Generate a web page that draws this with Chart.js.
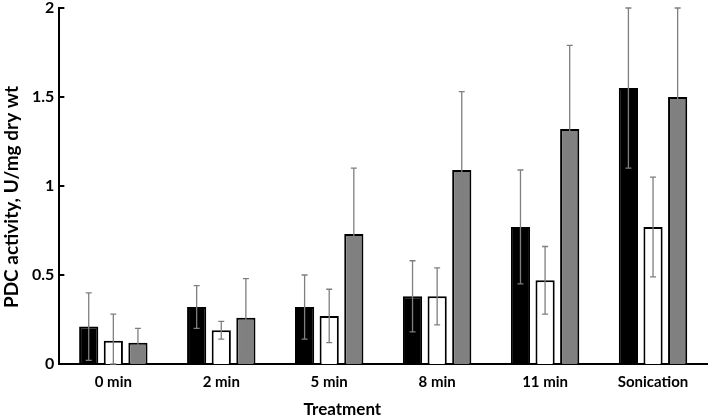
<!DOCTYPE html>
<html lang="en">
<head>
    <meta charset="UTF-8">
    <title>PDC activity</title>
    <script src="https://cdn.jsdelivr.net/npm/chart.js"></script>
    <style>
        html, body { margin: 0; padding: 0; background: #fff; }
        #wrap { width: 709px; height: 416px; }
    </style>
</head>
<body>
    <div id="wrap"><canvas id="pdcChart"></canvas></div>

    <script>
        const categories = ['0 min', '2 min', '5 min', '8 min', '11 min', 'Sonication'];

        const blackValues = [0.21, 0.32, 0.32, 0.38, 0.77, 1.55];
        const blackErrors = [0.19, 0.12, 0.18, 0.20, 0.32, 0.45];

        const whiteValues = [0.13, 0.19, 0.27, 0.38, 0.47, 0.77];
        const whiteErrors = [0.15, 0.05, 0.15, 0.16, 0.19, 0.28];

        const grayValues = [0.12, 0.26, 0.73, 1.09, 1.32, 1.50];
        const grayErrors = [0.08, 0.22, 0.37, 0.44, 0.47, 0.51];

        const yTicks = [0, 0.5, 1, 1.5, 2];

        const fontFamily = 'Lato, "Open Sans", sans-serif';

        // error bars, inside tick marks and the two axis titles
        const extras = {
            id: 'extras',
            afterDatasetsDraw(chart) {
                const ctx = chart.ctx;
                const y = chart.scales.y;
                ctx.save();
                ctx.strokeStyle = '#7f7f7f';
                ctx.lineWidth = 1.3;
                chart.data.datasets.forEach((ds, i) => {
                    const meta = chart.getDatasetMeta(i);
                    meta.data.forEach((bar, j) => {
                        const v = ds.data[j];
                        const e = ds.errors[j];
                        const top = y.getPixelForValue(Math.min(v + e, 2));
                        const bottom = y.getPixelForValue(Math.max(v - e, 0));
                        ctx.beginPath();
                        ctx.moveTo(bar.x, top);
                        ctx.lineTo(bar.x, bottom);
                        ctx.moveTo(bar.x - 3, top);
                        ctx.lineTo(bar.x + 3, top);
                        ctx.moveTo(bar.x - 3, bottom);
                        ctx.lineTo(bar.x + 3, bottom);
                        ctx.stroke();
                    });
                });
                ctx.restore();
            },
            afterDraw(chart) {
                const ctx = chart.ctx;
                const y = chart.scales.y;
                const area = chart.chartArea;
                ctx.save();
                ctx.strokeStyle = '#000';
                ctx.lineWidth = 2;
                yTicks.forEach(v => {
                    const py = y.getPixelForValue(v);
                    ctx.beginPath();
                    ctx.moveTo(area.left, py);
                    ctx.lineTo(area.left + 5, py);
                    ctx.stroke();
                });
                ctx.fillStyle = '#000';
                ctx.textAlign = 'center';
                ctx.font = 'bold 17px ' + fontFamily;
                ctx.textBaseline = 'alphabetic';
                ctx.fillText('Treatment', area.left + (area.right - area.left) * 0.437, 415);

                ctx.font = 'bold 19px ' + fontFamily;
                ctx.textBaseline = 'middle';
                ctx.translate(12, 197);
                ctx.rotate(-Math.PI / 2);
                ctx.fillText('PDC activity, U/mg dry wt', 0, 0);
                ctx.restore();
            }
        };

        new Chart(document.getElementById('pdcChart'), {
            type: 'bar',
            data: {
                labels: categories,
                datasets: [
                    { data: blackValues, errors: blackErrors, backgroundColor: '#000000', borderColor: '#000000', borderWidth: 2 },
                    { data: whiteValues, errors: whiteErrors, backgroundColor: '#ffffff', borderColor: '#000000', borderWidth: 2 },
                    { data: grayValues, errors: grayErrors, backgroundColor: '#808080', borderColor: '#000000', borderWidth: 2 }
                ]
            },
            options: {
                responsive: true,
                maintainAspectRatio: false,
                animation: false,
                categoryPercentage: 0.684,
                barPercentage: 0.78,
                layout: { padding: { top: 0, right: 2, bottom: 16, left: 27 } },
                plugins: {
                    legend: { display: false },
                    tooltip: { enabled: false }
                },
                scales: {
                    x: {
                        grid: { display: false, drawTicks: false },
                        border: { color: '#000', width: 2 },
                        ticks: { color: '#000', font: { family: fontFamily, weight: 'bold', size: 15 }, padding: 9 }
                    },
                    y: {
                        min: 0,
                        max: 2,
                        afterBuildTicks(scale) { scale.ticks = yTicks.map(v => ({ value: v })); },
                        grid: { display: false, drawTicks: false },
                        border: { color: '#000', width: 2 },
                        ticks: { color: '#000', font: { family: fontFamily, weight: 'bold', size: 16, lineHeight: 0.375 }, padding: 5, callback: v => String(v) }
                    }
                }
            },
            plugins: [extras]
        });
    </script>
</body>
</html>
